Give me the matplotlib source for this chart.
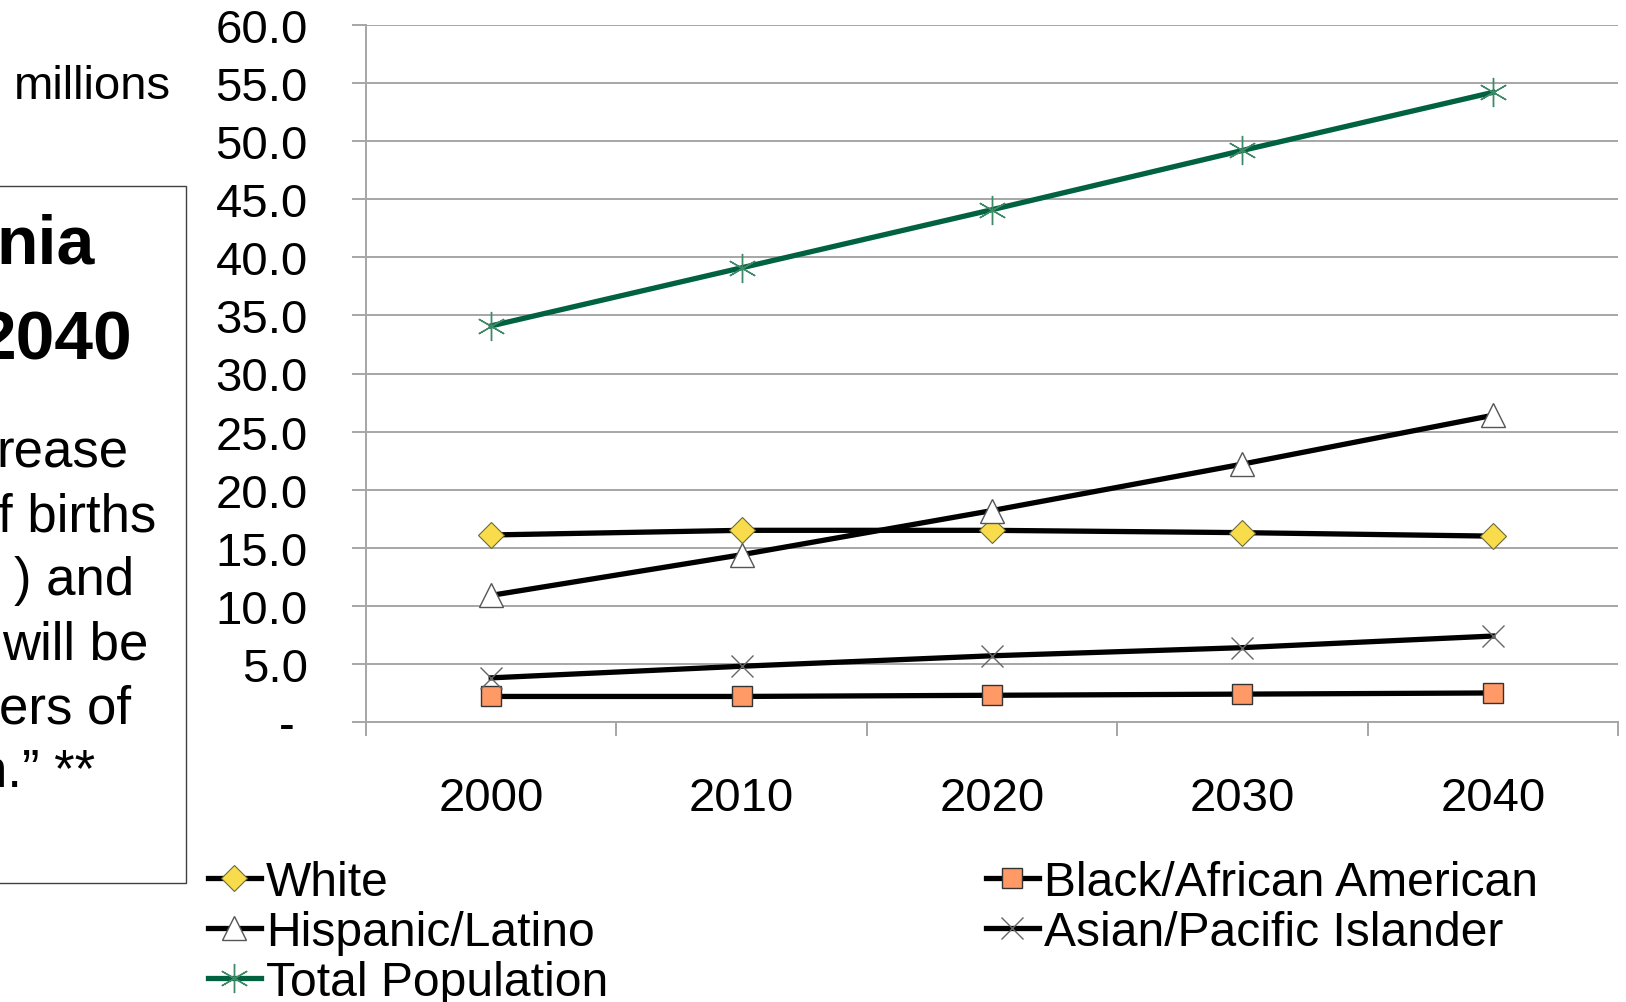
# California population projections by race/ethnicity, 2000-2040
import matplotlib.pyplot as plt
from matplotlib.patches import Rectangle

plt.rcParams['font.family'] = ['Liberation Sans', 'DejaVu Sans']

years = ['2000', '2010', '2020', '2030', '2040']
white = [16.1, 16.5, 16.5, 16.3, 16.0]
black = [2.2, 2.2, 2.3, 2.4, 2.5]
hispanic = [10.9, 14.4, 18.2, 22.2, 26.4]
asian = [3.8, 4.8, 5.7, 6.4, 7.4]
total = [34.1, 39.1, 44.1, 49.2, 54.2]

y_ticks = [0, 5, 10, 15, 20, 25, 30, 35, 40, 45, 50, 55, 60]
y_labels = ['- ', '5.0', '10.0', '15.0', '20.0', '25.0', '30.0',
            '35.0', '40.0', '45.0', '50.0', '55.0', '60.0']

W, H = 1626, 1003
fig = plt.figure(figsize=(W / 100, H / 100), dpi=100)


def fx(px):
    return px / W


def fy(py):
    return 1 - py / H


ax = fig.add_axes([fx(366), fy(723), fx(1618) - fx(366), fy(26) - fy(723)])

x = list(range(len(years)))
gray = '#a6a6a6'
lw = 3.8

ax.plot(x, white, color='black', lw=lw, marker='D', ms=13,
        mfc='#f8dc4c', mec='#6b6b3a', mew=0.8, label='White', zorder=3)
ax.plot(x, black, color='black', lw=lw, marker='s', ms=14,
        mfc='#ff9966', mec='#333333', mew=1.0, label='Black/African American', zorder=3)
ax.plot(x, hispanic, color='black', lw=lw, marker='^', ms=17,
        mfc='white', mec='#555555', mew=1.0, label='Hispanic/Latino', zorder=3)
ax.plot(x, asian, color='black', lw=lw, marker='x', ms=16,
        mec='#666666', mew=1.0, label='Asian/Pacific Islander', zorder=3)
ax.plot(x, total, color='#006241', lw=lw, marker=(6, 2, 0), ms=21,
        mec='#3f8a66', mew=1.0, label='Total Population', zorder=3)

ax.set_xlim(-0.5, 4.5)
ax.set_ylim(0, 60)
ax.set_yticks(y_ticks)
ax.set_yticklabels(y_labels)
ax.yaxis.grid(True, color=gray, lw=1.4)
ax.set_axisbelow(True)

# category axis: ticks between groups, labels centred on groups
ax.set_xticks([i - 0.5 for i in range(len(years) + 1)])
ax.set_xticklabels([])
ax.set_xticks(x, minor=True)
ax.set_xticklabels(years, minor=True)
ax.tick_params(axis='x', which='major', length=10, width=1.4, color=gray, direction='out')
ax.tick_params(axis='x', which='minor', length=0, pad=39, labelsize=34)
ax.tick_params(axis='y', length=10, width=1.4, color=gray, direction='out', pad=32, labelsize=34)

for s in ['top', 'right']:
    ax.spines[s].set_visible(False)
for s in ['left', 'bottom']:
    ax.spines[s].set_color(gray)
    ax.spines[s].set_linewidth(1.4)

# legend split in two blocks under the plot
handles, labels = ax.get_legend_handles_labels()
order1 = [0, 2, 4]
order2 = [1, 3]
kw = dict(frameon=False, fontsize=34.6, handlelength=1.1, handletextpad=0.1,
          labelspacing=0.1, borderpad=0, borderaxespad=0, loc='upper left')
fig.legend([handles[i] for i in order1], [labels[i] for i in order1],
           bbox_to_anchor=(fx(208), fy(861)), **kw)
fig.legend([handles[i] for i in order2], [labels[i] for i in order2],
           bbox_to_anchor=(fx(986), fy(861)), **kw)

# text panel on the left
fig.patches.append(Rectangle((fx(-5), fy(884)), fx(191), fy(187) - fy(884),
                             transform=fig.transFigure, fill=False,
                             edgecolor='#404040', lw=1.0))

fig.text(fx(171), fy(99), 'millions', fontsize=34, ha='right', va='baseline')
fig.text(fx(-4), fy(264), 'nia', fontsize=49, fontweight='bold', va='baseline')
fig.text(fx(-22), fy(360), '2040', fontsize=50, fontweight='bold', va='baseline')

body = ['rease', 'f births', ') and', 'will be', 'ers of', 'n.\u201d **']
body_x = [-4, -2, 14, 2, -1, -22]
for i, (t, bx) in enumerate(zip(body, body_x)):
    fig.text(fx(bx), fy(467 + 64 * i), t, fontsize=38, va='baseline')

fig.savefig('out.png', dpi=100)
